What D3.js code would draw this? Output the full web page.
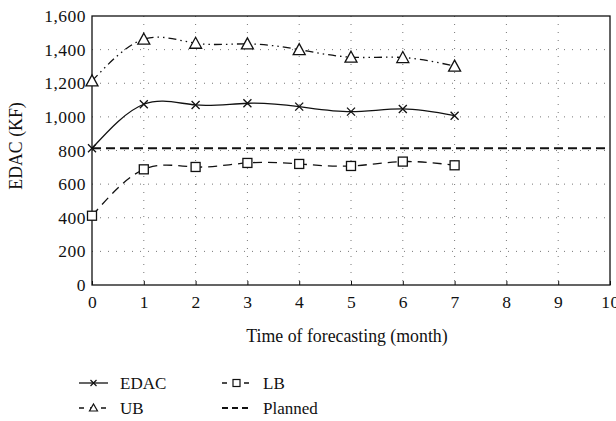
<!DOCTYPE html>
<html>
  <head>
    <meta charset="utf-8">
    <title>EDAC forecast</title>
    <script src="https://cdn.jsdelivr.net/npm/d3@7/dist/d3.min.js"></script>
    <style type="text/css">
      body { margin: 0; background: #fff; }
      text { font-family: "Liberation Serif", "DejaVu Serif", serif; fill: #111; }
      .grid line { stroke: #777; stroke-dasharray: 1,7; stroke-width: 1; }
    </style>
  </head>
  <body>
    <script>

      // data
      var months = [0, 1, 2, 3, 4, 5, 6, 7];
      var edac = [813, 1075, 1071, 1081, 1061, 1031, 1047, 1007];
      var ub = [1214, 1462, 1438, 1434, 1400, 1355, 1353, 1302];
      var lb = [412, 688, 702, 726, 720, 708, 734, 712];
      var planned = 813;
      var xTicks = [0, 1, 2, 3, 4, 5, 6, 7, 8, 9, 10];
      var yTicks = [0, 200, 400, 600, 800, 1000, 1200, 1400, 1600];

      var w = 616, h = 421;
      // plot box (note: "top" is reserved on window, so use pTop etc.)
      var pLeft = 92, pRight = 610, pTop = 16, pBottom = 285;

      var svg = d3.select("body").append("svg")
                  .attr("width", w)
                  .attr("height", h);

      var x = d3.scaleLinear().domain([0, 10]).range([pLeft, pRight]);
      var y = d3.scaleLinear().domain([0, 1600]).range([pBottom, pTop]);

      // dotted grid
      var grid = svg.append("g").attr("class", "grid");
      grid.selectAll("line.v")
          .data(xTicks.slice(1, -1))
          .enter().append("line")
          .attr("class", "v")
          .attr("x1", function(d) { return x(d); })
          .attr("x2", function(d) { return x(d); })
          .attr("y1", pTop).attr("y2", pBottom);
      grid.selectAll("line.h")
          .data(yTicks.slice(1, -1))
          .enter().append("line")
          .attr("class", "h")
          .attr("y1", function(d) { return y(d); })
          .attr("y2", function(d) { return y(d); })
          .attr("x1", pLeft).attr("x2", pRight);

      // axes
      var xAxis = svg.append("g")
          .attr("transform", "translate(0," + pBottom + ")")
          .call(d3.axisBottom(x).tickValues(xTicks).tickSizeInner(-4).tickSizeOuter(0).tickPadding(11));
      var yAxis = svg.append("g")
          .attr("transform", "translate(" + pLeft + ",0)")
          .call(d3.axisLeft(y).tickValues(yTicks).tickSizeInner(0).tickSizeOuter(0).tickPadding(6)
                  .tickFormat(d3.format(",")));

      [xAxis, yAxis].forEach(function(a) {
        a.select(".domain").remove();
        a.selectAll("text")
         .style("font-size", "17.5px")
         .style("letter-spacing", "0.5px")
         .style("font-family", "'Liberation Serif', serif")
         .attr("fill", "#111");
        a.selectAll("line").attr("stroke", "#111");
      });

      // frame
      svg.append("rect")
         .attr("x", pLeft).attr("y", pTop)
         .attr("width", pRight - pLeft).attr("height", pBottom - pTop)
         .attr("fill", "none").attr("stroke", "#111").attr("stroke-width", 1.3);

      // planned line
      svg.append("line")
         .attr("x1", x(0)).attr("x2", x(10))
         .attr("y1", y(planned)).attr("y2", y(planned))
         .attr("stroke", "#111").attr("stroke-width", 2)
         .attr("stroke-dasharray", "9,5");

      var line = d3.line()
          .x(function(d) { return x(d[0]); })
          .y(function(d) { return y(d[1]); })
          .curve(d3.curveNatural);

      function pairs(vals) {
        return months.map(function(m, i) { return [m, vals[i]]; });
      }

      var series = [
        { name: "EDAC", vals: edac, dash: null, mark: "x" },
        { name: "UB", vals: ub, dash: "8,4,1.5,4,1.5,4", mark: "tri" },
        { name: "LB", vals: lb, dash: "9,6", mark: "sq" }
      ];

      function drawMark(g, type, cx, cy) {
        if (type === "x") {
          g.append("path")
           .attr("d", "M" + (cx - 4) + "," + (cy - 4) + "L" + (cx + 4) + "," + (cy + 4) +
                      "M" + (cx - 4) + "," + (cy + 4) + "L" + (cx + 4) + "," + (cy - 4))
           .attr("stroke", "#111").attr("stroke-width", 1.3);
        } else if (type === "tri") {
          g.append("path")
           .attr("d", "M" + cx + "," + (cy - 6) + "L" + (cx + 6) + "," + (cy + 5) + "L" + (cx - 6) + "," + (cy + 5) + "Z")
           .attr("fill", "#fff").attr("stroke", "#111").attr("stroke-width", 1.3);
        } else {
          g.append("rect")
           .attr("x", cx - 4.5).attr("y", cy - 4.5).attr("width", 9).attr("height", 9)
           .attr("fill", "#fff").attr("stroke", "#111").attr("stroke-width", 1.3);
        }
      }

      series.forEach(function(s) {
        svg.append("path")
           .datum(pairs(s.vals))
           .attr("d", line)
           .attr("fill", "none")
           .attr("stroke", "#111")
           .attr("stroke-width", 1.3)
           .attr("stroke-dasharray", s.dash);
        var g = svg.append("g");
        s.vals.forEach(function(v, i) {
          drawMark(g, s.mark, x(months[i]), y(v));
        });
      });

      // axis titles
      svg.append("text")
         .attr("x", (pLeft + pRight) / 2 - 4).attr("y", 342)
         .attr("text-anchor", "middle")
         .style("font-size", "17.8px")
         .text("Time of forecasting (month)");

      svg.append("text")
         .attr("transform", "translate(22,146) rotate(-90)")
         .attr("text-anchor", "middle")
         .style("font-size", "17.8px")
         .text("EDAC (KF)");

      // legend
      var legend = [
        { name: "EDAC", dash: null, mark: "x", lx: 79, ly: 383 },
        { name: "UB", dash: "5,6", mark: "tri", lx: 79, ly: 408 },
        { name: "LB", dash: "5,6", mark: "sq", lx: 222, ly: 383 },
        { name: "Planned", dash: "6,4", mark: null, lx: 222, ly: 408 }
      ];
      legend.forEach(function(l) {
        var g = svg.append("g");
        g.append("line")
         .attr("x1", l.lx).attr("x2", l.lx + 29)
         .attr("y1", l.ly).attr("y2", l.ly)
         .attr("stroke", "#111")
         .attr("stroke-width", l.mark ? 1.3 : 2)
         .attr("stroke-dasharray", l.dash);
        if (l.mark === "x") {
          g.append("path")
           .attr("d", "M" + (l.lx + 11.5) + "," + (l.ly - 3) + "L" + (l.lx + 17.5) + "," + (l.ly + 3) +
                      "M" + (l.lx + 11.5) + "," + (l.ly + 3) + "L" + (l.lx + 17.5) + "," + (l.ly - 3))
           .attr("stroke", "#111").attr("stroke-width", 1.2);
        } else if (l.mark === "tri") {
          g.append("path")
           .attr("d", "M" + (l.lx + 14.5) + "," + (l.ly - 4) + "L" + (l.lx + 18.5) + "," + (l.ly + 3) + "L" + (l.lx + 10.5) + "," + (l.ly + 3) + "Z")
           .attr("fill", "#fff").attr("stroke", "#111").attr("stroke-width", 1.2);
        } else if (l.mark === "sq") {
          g.append("rect")
           .attr("x", l.lx + 11).attr("y", l.ly - 3.5).attr("width", 7).attr("height", 7)
           .attr("fill", "#fff").attr("stroke", "#111").attr("stroke-width", 1.2);
        }
        g.append("text")
         .attr("x", l.lx + 41).attr("y", l.ly + 6)
         .style("font-size", "17px")
         .text(l.name);
      });

    </script>
  </body>
</html>
